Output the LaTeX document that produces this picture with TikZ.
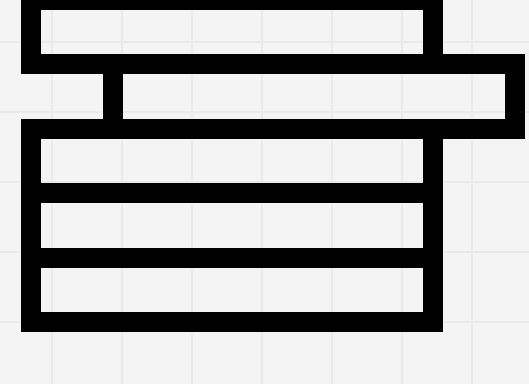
\documentclass[tikz,border=0pt]{standalone}
\usepackage{tikz}

\definecolor{paper}{HTML}{F4F4F4}
\definecolor{gridgray}{HTML}{EAEAEA}

\begin{document}
\begin{tikzpicture}[x=1pt, y=-1pt,
	gridline/.style={draw=gridgray, line width=2pt},
	block/.style={draw=black, line width=20pt, inner sep=0pt, outer sep=0pt, minimum width=402pt, minimum height=64.6pt}]
	\fill[paper] (0,0) rectangle (529,384);
	\useasboundingbox (0,0) rectangle (529,384);
	\foreach \gx in {0,...,6} \draw[gridline] ({51.7+70.1*\gx},0) -- ++(0,384);
	\foreach \gy in {0,...,4} \draw[gridline] (0,{41.7+70.1*\gy}) -- ++(529,0);
	\node[block] (lid) at (232.3,31.8) {};
	\node[block] (shelf) at (314,96.2) {};
	\node[block] (tierA) at (232.3,160.8) {};
	\node[block] (tierB) at (232.3,225.5) {};
	\node[block] (tierC) at (232.3,290.1) {};
\end{tikzpicture}
\end{document}
